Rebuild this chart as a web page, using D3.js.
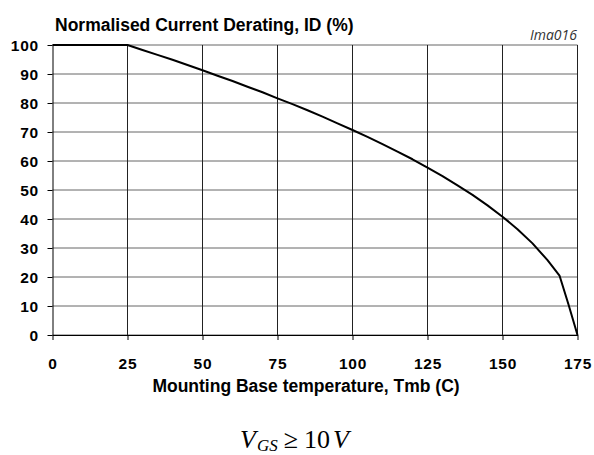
<!DOCTYPE html>
<html>
<head>
<meta charset="utf-8">
<script src="https://cdn.jsdelivr.net/npm/d3@7"></script>
<style>
  body { margin: 0; background: #fff; }
  .axis text { font-family: "Liberation Sans", Arial, sans-serif; font-weight: bold; font-size: 15.5px; letter-spacing: 0.8px; fill: #000; }
  .axis path, .axis line { stroke: #000; }
</style>
</head>
<body>
<svg class="chart" width="594" height="455"></svg>
<script>
// values
const temps = [0, 25, 27, 30, 35, 40, 45, 50, 55, 60, 65, 70, 75, 80, 85, 90, 95, 100, 105, 110, 115, 120, 125, 130, 135, 140, 145, 150, 155, 160, 165, 169, 172, 175];
const derating = [100, 100, 99.3, 98.3, 96.6, 94.9, 93.1, 91.3, 89.4, 87.6, 85.6, 83.7, 81.6, 79.6, 77.5, 75.3, 73.0, 70.7, 68.3, 65.8, 63.2, 60.6, 57.7, 54.8, 51.6, 48.3, 44.7, 40.8, 36.5, 31.6, 25.8, 20.5, 10.5, 0];
const xTicks = [0, 25, 50, 75, 100, 125, 150, 175];
const yTicks = [0, 10, 20, 30, 40, 50, 60, 70, 80, 90, 100];

var svg = d3.select('.chart');

var x = d3.scaleLinear().domain([0, 175]).range([52.5, 577.5]);
var y = d3.scaleLinear().domain([0, 100]).range([335, 45]);

// grid
svg.append('g').selectAll('line')
    .data(yTicks)
    .enter().append('line')
    .attr('x1', x(0)).attr('x2', x(175))
    .attr('y1', d => y(d)).attr('y2', d => y(d))
    .attr('stroke', '#666').attr('stroke-width', 1);

svg.append('g').selectAll('line')
    .data(xTicks.slice(1))
    .enter().append('line')
    .attr('x1', d => x(d)).attr('x2', d => x(d))
    .attr('y1', y(0)).attr('y2', y(100))
    .attr('stroke', '#222').attr('stroke-width', 1);

// axes
var yAxis = svg.append('g')
    .attr('class', 'axis')
    .attr('transform', 'translate(' + x(0) + ',0)')
    .call(d3.axisLeft(y).tickValues(yTicks).tickSize(5).tickSizeOuter(0));
yAxis.selectAll('text').attr('x', -13.5).attr('dy', '0.36em');

var xAxis = svg.append('g')
    .attr('class', 'axis')
    .attr('transform', 'translate(0,' + y(0) + ')')
    .call(d3.axisBottom(x).tickValues(xTicks).tickSize(5).tickSizeOuter(0));
xAxis.selectAll('text').attr('y', 34).attr('dy', null);

// curve
svg.append('path')
    .datum(temps.map((t, i) => [t, derating[i]]))
    .attr('fill', 'none')
    .attr('stroke', '#000')
    .attr('stroke-width', 2)
    .attr('stroke-linejoin', 'round')
    .attr('d', d3.line().x(d => x(d[0])).y(d => y(d[1])));

// titles
svg.append('text')
    .attr('x', 55).attr('y', 31)
    .style('font', 'bold 17.5px "Liberation Sans", Arial, sans-serif')
    .text('Normalised Current Derating, ID (%)');

svg.append('text')
    .attr('x', 577).attr('y', 40)
    .attr('text-anchor', 'end')
    .style('font', 'italic 14px "Open Sans", sans-serif')
    .style('fill', '#333')
    .text('Ima016');

svg.append('text')
    .attr('x', 306).attr('y', 392)
    .attr('text-anchor', 'middle')
    .style('font', 'bold 17.5px "Liberation Sans", Arial, sans-serif')
    .text('Mounting Base temperature, Tmb (C)');

// condition
var f = svg.append('text')
    .attr('x', 240).attr('y', 448)
    .style('font-family', '"Liberation Serif", "DejaVu Serif", serif')
    .style('font-size', '26px');
f.append('tspan').style('font-style', 'italic').text('V');
f.append('tspan').style('font-style', 'italic').style('font-size', '17px').attr('dy', 3).attr('dx', 1).text('GS');
f.append('tspan').attr('dy', -3).attr('dx', 6).text('≥');
f.append('tspan').attr('dx', 6).text('10');
f.append('tspan').style('font-style', 'italic').attr('dx', 3).text('V');
</script>
</body>
</html>
